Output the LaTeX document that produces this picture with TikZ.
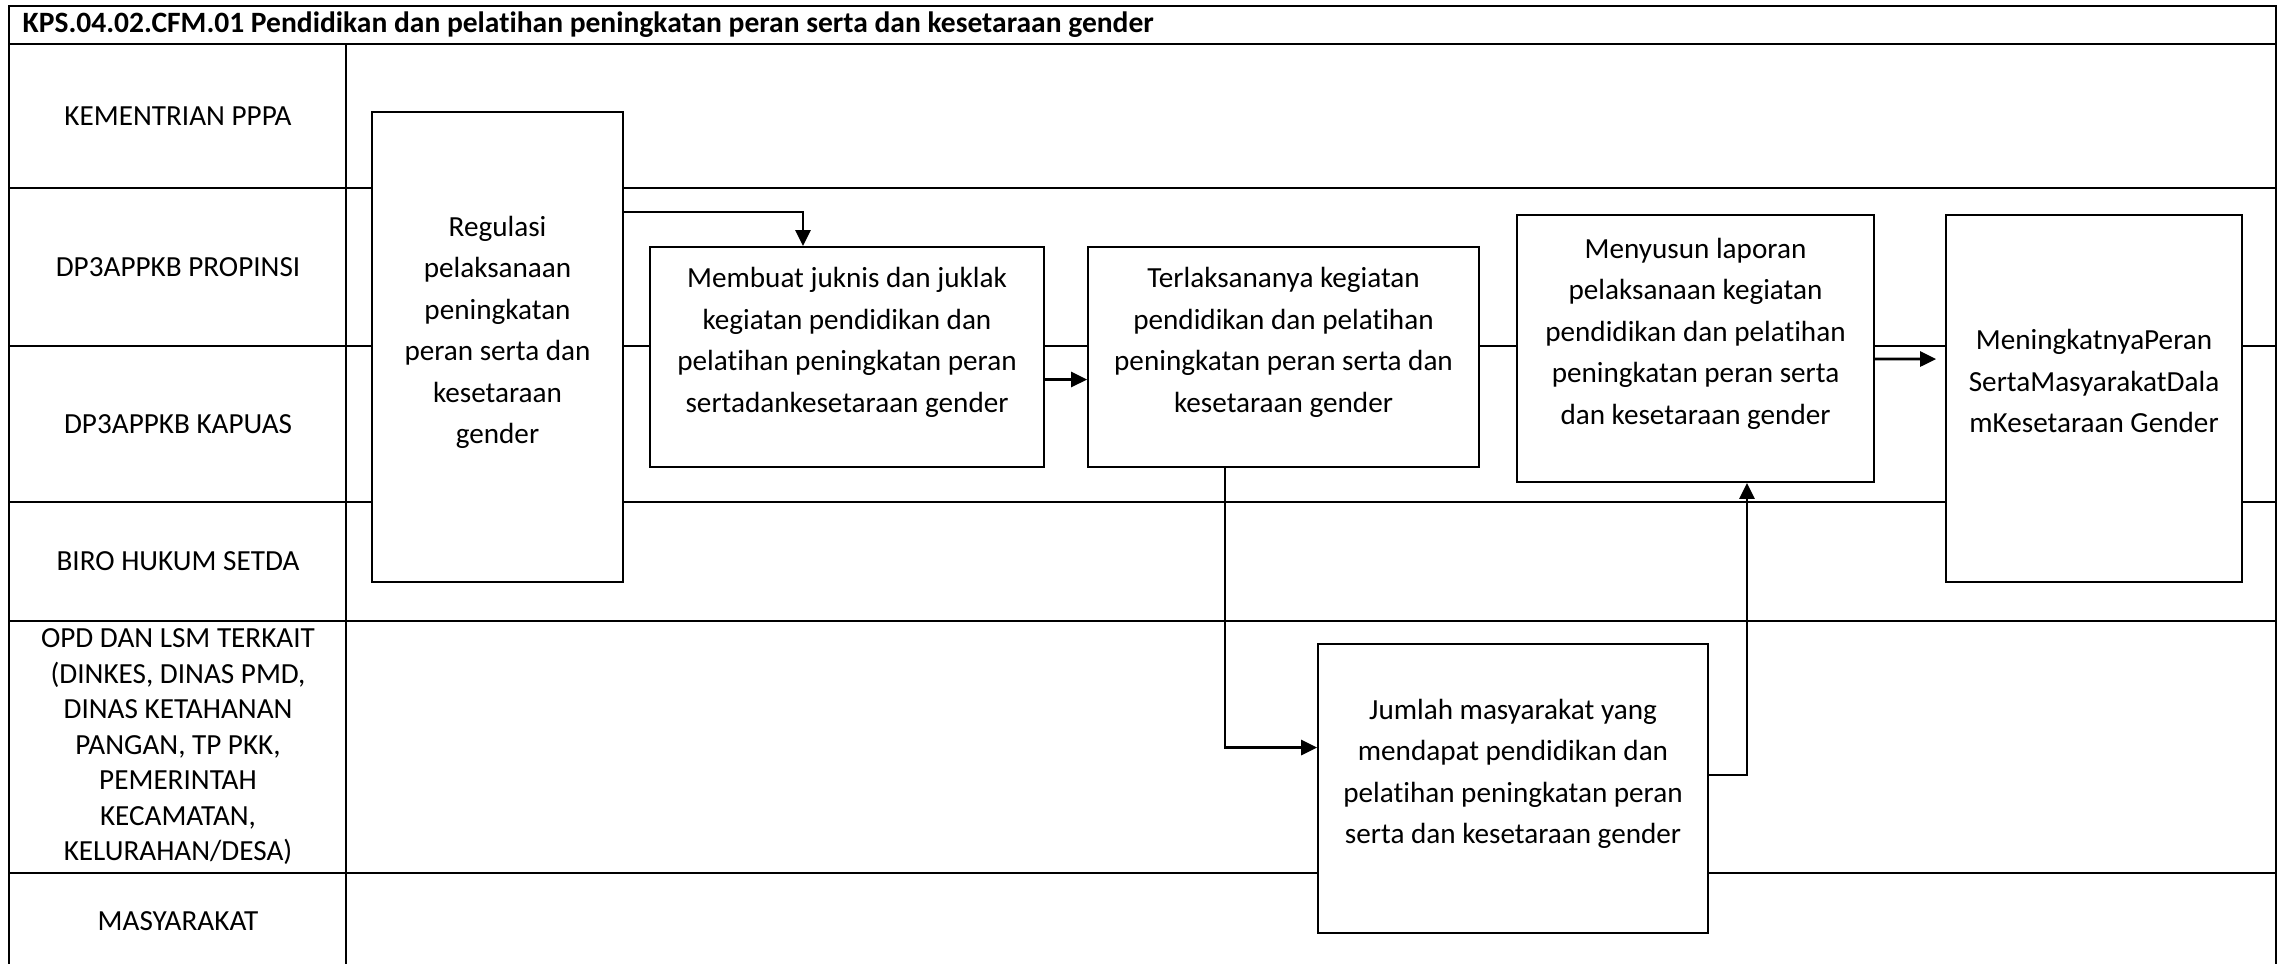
\documentclass[tikz,border=0pt]{standalone}
\usepackage{fontspec}
\setmainfont{Carlito}[Ligatures=CommonOff]
\usepackage{tikz}
\usetikzlibrary{arrows.meta,positioning}
\newcommand{\tailgap}{\\[-2pt]\mbox{}}

\begin{document}
\begin{tikzpicture}[
  lane/.style={align=center, font=\fontsize{8.3}{10.1}\selectfont},
  box/.style={draw=black, fill=white, line width=0.5pt, align=center,
              inner sep=0pt, font=\fontsize{8.3}{11.8}\selectfont},
  flow/.style={-{Triangle[length=1.6mm,width=1.5mm]}, line width=0.8pt},
  rule/.style={line width=0.7pt}]
  \useasboundingbox (0,0) rectangle (22.89,-9.63);
  % frame and lanes
  \draw[rule] (0.09,-9.9) -- (0.09,-0.06) -- (22.76,-0.06) -- (22.76,-9.9);
  \draw[rule] (0.09,-0.44) -- (22.76,-0.44);
  \foreach \y in {1.88,3.46,5.02,6.21,8.73}
    \draw[rule] (0.09,-\y) -- (22.76,-\y);
  \draw[rule] (3.46,-0.44) -- (3.46,-9.9);
  \node[anchor=west, inner sep=0pt, font=\fontsize{8.4}{10}\selectfont\bfseries] (title)
    at (0.22,-0.25)
    {KPS.04.02.CFM.01 Pendidikan dan pelatihan peningkatan peran serta dan kesetaraan gender};
  \node[lane] (lkem) at (1.78,-1.16) {KEMENTRIAN PPPA};
  \node[lane] (lprop) at (1.78,-2.67) {DP3APPKB PROPINSI};
  \node[lane] (lkap) at (1.78,-4.24) {DP3APPKB KAPUAS};
  \node[lane] (lbiro) at (1.78,-5.615) {BIRO HUKUM SETDA};
  \node[lane] (lopd) at (1.78,-7.47)
    {OPD DAN LSM TERKAIT\\(DINKES, DINAS PMD,\\DINAS KETAHANAN\\PANGAN, TP PKK,\\PEMERINTAH\\KECAMATAN,\\KELURAHAN/DESA)};
  \node[lane] (lmas) at (1.78,-9.21) {MASYARAKAT};
  % process boxes
  \node[box, minimum width=2.51cm, minimum height=4.70cm] (regulasi) at (4.975,-3.47)
    {Regulasi\\pelaksanaan\\peningkatan\\peran serta dan\\kesetaraan\\gender\tailgap};
  \node[box, minimum width=3.94cm, minimum height=2.20cm] (juknis) at (8.47,-3.57)
    {Membuat juknis dan juklak\\kegiatan pendidikan dan\\pelatihan peningkatan peran\\sertadankesetaraan gender\tailgap};
  \node[box, minimum width=3.91cm, minimum height=2.20cm] (terlaksana) at (12.835,-3.57)
    {Terlaksananya kegiatan\\pendidikan dan pelatihan\\peningkatan peran serta dan\\kesetaraan gender\tailgap};
  \node[box, minimum width=3.57cm, minimum height=2.67cm] (laporan) at (16.955,-3.485)
    {Menyusun laporan\\pelaksanaan kegiatan\\pendidikan dan pelatihan\\peningkatan peran serta\\dan kesetaraan gender\tailgap};
  \node[box, minimum width=2.96cm, minimum height=3.67cm] (hasil) at (20.94,-3.985)
    {MeningkatnyaPeran\\SertaMasyarakatDala\\mKesetaraan Gender\tailgap};
  \node[box, minimum width=3.90cm, minimum height=2.89cm] (jumlah) at (15.13,-7.885)
    {Jumlah masyarakat yang\\mendapat pendidikan dan\\pelatihan peningkatan peran\\serta dan kesetaraan gender\tailgap};
  % connectors
  \draw[flow] ([yshift=13.5mm]regulasi.east) -| ([xshift=-4.4mm]juknis.north);
  \draw[flow] ([yshift=-2.25mm]juknis.east) -- ([yshift=-2.25mm]terlaksana.west);
  \draw[flow] ([xshift=-5.85mm]terlaksana.south) |- ([yshift=4.1mm]jumlah.west);
  \draw[flow] ([yshift=1.35mm]jumlah.east) -| ([xshift=5.15mm]laporan.south);
  \draw[flow, shorten >=0.9mm] ([yshift=-1.05mm]laporan.east) -- ([yshift=3.95mm]hasil.west);
\end{tikzpicture}
\end{document}
